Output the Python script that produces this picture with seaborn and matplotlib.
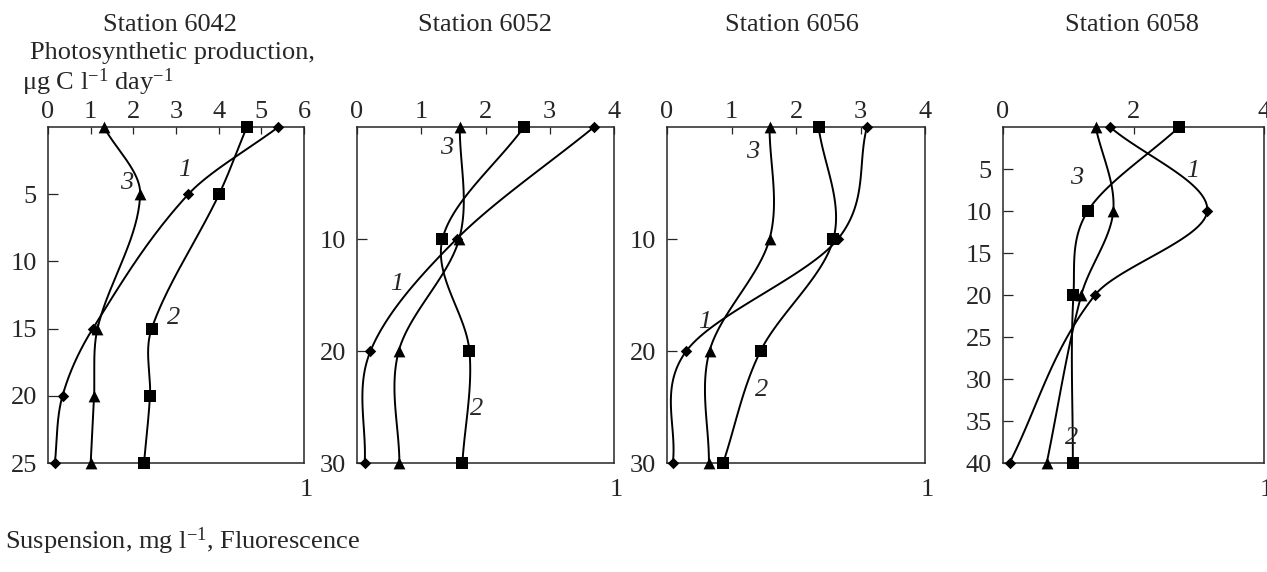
import numpy as np
import matplotlib
matplotlib.use("Agg")
import matplotlib.pyplot as plt
import seaborn as sns

# depth (m) and values: 1 = production, 2 = suspension, 3 = fluorescence
stations = ["6042", "6052", "6056", "6058"]

depth_6042 = [0, 5, 15, 20, 25]
curve1_6042 = [5.40, 3.29, 1.05, 0.34, 0.16]
curve2_6042 = [4.66, 4.01, 2.43, 2.39, 2.25]
curve3_6042 = [1.31, 2.16, 1.16, 1.08, 1.00]

depth_6052 = [0, 10, 20, 30]
curve1_6052 = [3.69, 1.55, 0.21, 0.12]
curve2_6052 = [2.60, 1.33, 1.75, 1.64]
curve3_6052 = [1.60, 1.59, 0.65, 0.66]

depth_6056 = [0, 10, 20, 30]
curve1_6056 = [3.10, 2.65, 0.30, 0.09]
curve2_6056 = [2.35, 2.58, 1.45, 0.87]
curve3_6056 = [1.59, 1.59, 0.66, 0.65]

depth_6058 = [0, 10, 20, 40]
curve1_6058 = [1.64, 3.13, 1.41, 0.10]
curve2_6058 = [2.70, 1.30, 1.08, 1.07]
curve3_6058 = [1.42, 1.69, 1.20, 0.67]

xmax = [6, 4, 4, 4]
ymax = [25, 30, 30, 40]
xticks = [[0, 1, 2, 3, 4, 5, 6], [0, 1, 2, 3, 4], [0, 1, 2, 3, 4], [0, 2, 4]]
yticks = [[5, 10, 15, 20, 25], [10, 20, 30], [10, 20, 30], [5, 10, 15, 20, 25, 30, 35, 40]]
label_pos = [
    {"1": (3.21, 3.2), "2": (2.95, 14.2), "3": (1.84, 4.2)},
    {"1": (0.61, 14.0), "2": (1.86, 25.2), "3": (1.39, 1.9)},
    {"1": (0.58, 17.4), "2": (1.46, 23.5), "3": (1.33, 2.2)},
    {"1": (2.91, 5.2), "2": (1.05, 37.0), "3": (1.13, 6.1)},
]

sns.set_style("ticks")
plt.rcParams["font.family"] = ["Liberation Serif", "DejaVu Serif"]
plt.rcParams["mathtext.fontset"] = "custom"
plt.rcParams["mathtext.rm"] = "Liberation Serif"
plt.rcParams["mathtext.it"] = "Liberation Serif:italic"
FS = 19


def smooth(depth, vals, n=40):
    # cubic hermite through the points, x as a function of depth
    d = np.asarray(depth, float)
    v = np.asarray(vals, float)
    m = np.zeros_like(v)
    m[0] = (v[1] - v[0]) / (d[1] - d[0])
    m[-1] = (v[-1] - v[-2]) / (d[-1] - d[-2])
    for i in range(1, len(d) - 1):
        m[i] = (v[i + 1] - v[i - 1]) / (d[i + 1] - d[i - 1])
    ds, vs = [], []
    for i in range(len(d) - 1):
        h = d[i + 1] - d[i]
        t = np.linspace(0, 1, n)
        h00 = 2 * t**3 - 3 * t**2 + 1
        h10 = t**3 - 2 * t**2 + t
        h01 = -2 * t**3 + 3 * t**2
        h11 = t**3 - t**2
        vs.append(h00 * v[i] + h10 * h * m[i] + h01 * v[i + 1] + h11 * h * m[i + 1])
        ds.append(d[i] + t * h)
    return np.concatenate(vs), np.concatenate(ds)


W, H = 1267, 572
fig = plt.figure(figsize=(W / 100, H / 100), dpi=100)
boxes = [(48, 304), (357, 614), (667, 925), (1003, 1264)]
title_x = [170, 485, 792, 1132]
top, bottom = 127, 463

series = {
    "6042": (depth_6042, curve1_6042, curve2_6042, curve3_6042),
    "6052": (depth_6052, curve1_6052, curve2_6052, curve3_6052),
    "6056": (depth_6056, curve1_6056, curve2_6056, curve3_6056),
    "6058": (depth_6058, curve1_6058, curve2_6058, curve3_6058),
}
markers = {"1": ("D", 34), "2": ("s", 72), "3": ("^", 72)}

for k, st in enumerate(stations):
    l, r = boxes[k]
    ax = fig.add_axes([l / W, 1 - bottom / H, (r - l) / W, (bottom - top) / H])
    depth, c1, c2, c3 = series[st]
    for name, vals in zip(["1", "2", "3"], [c1, c2, c3]):
        xs, ys = smooth(depth, vals)
        ax.plot(xs, ys, color="black", lw=1.4, zorder=2)
        mk, s = markers[name]
        sns.scatterplot(x=vals, y=depth, marker=mk, s=s, color="black",
                        edgecolor="black", linewidth=0, ax=ax, zorder=3, clip_on=False)
        tx, ty = label_pos[k][name]
        ax.text(tx, ty, name, fontsize=FS, style="italic", ha="center", va="center")
    ax.set_xlim(0, xmax[k])
    ax.set_ylim(ymax[k], 0)
    ax.xaxis.tick_top()
    ax.set_xticks(xticks[k])
    ax.set_yticks(yticks[k])
    ax.tick_params(axis="x", direction="in", length=5, width=0.9, pad=3, labelsize=FS)
    ax.tick_params(axis="y", direction="in", length=7, width=0.9, pad=8, labelsize=FS)
    for sp in ax.spines.values():
        sp.set_visible(True)
        sp.set_linewidth(1.1)
    ax.set_xlabel("")
    ax.set_ylabel("")
    fig.text(title_x[k] / W, 1 - 25 / H, "Station " + st, fontsize=FS,
             ha="center", va="center")
    fig.text((r + 2) / W, 1 - 490 / H, "1", fontsize=FS, ha="center", va="center")

fig.text(172 / W, 1 - 53 / H, "Photosynthetic production,", fontsize=FS,
         ha="center", va="center")
fig.text(22 / W, 1 - 82 / H, r"μg C l$^{-1}$ day$^{-1}$", fontsize=FS,
         ha="left", va="center")
fig.text(5 / W, 1 - 541 / H, r"Suspension, mg l$^{-1}$, Fluorescence", fontsize=FS,
         ha="left", va="center")

fig.savefig("out.png", dpi=100)
